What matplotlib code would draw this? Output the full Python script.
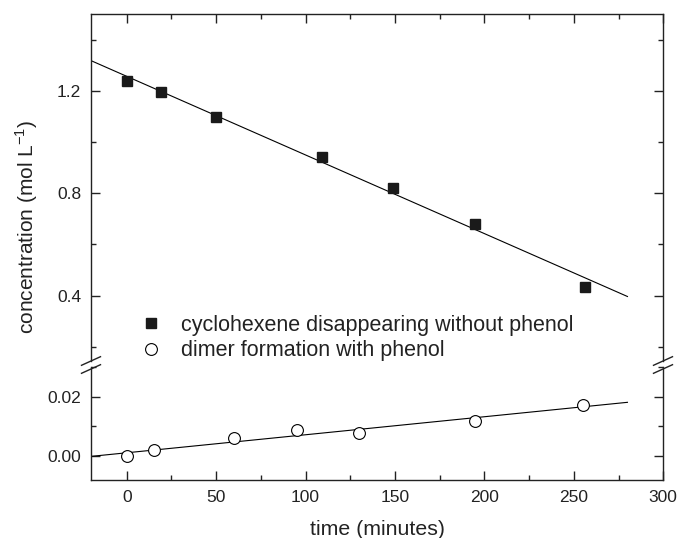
import numpy as np
import matplotlib
matplotlib.use('Agg')
import matplotlib.pyplot as plt
from matplotlib.ticker import MultipleLocator
from matplotlib.lines import Line2D

# cyclohexene disappearing without phenol (squares, upper panel)
t_cyc = [0, 19, 50, 109, 149, 195, 256]
c_cyc = [1.238, 1.197, 1.097, 0.940, 0.820, 0.680, 0.435]

# dimer formation with phenol (circles, lower panel)
t_dim = [0, 15, 60, 95, 130, 195, 255]
c_dim = [0.0000, 0.0019, 0.0061, 0.0087, 0.0077, 0.0117, 0.0172]

fit_range = [-20, 280]

plt.rcParams['font.family'] = ['Liberation Sans', 'DejaVu Sans']
ink = '#222222'

fig = plt.figure(figsize=(6.78, 5.38), dpi=100)
ax_top = fig.add_axes([0.1342, 0.329, 0.844, 0.645])
ax_bot = fig.add_axes([0.1342, 0.108, 0.844, 0.210])

# linear fits
xf = np.array(fit_range)
k1, b1 = np.polyfit(t_cyc, c_cyc, 1)
k2, b2 = np.polyfit(t_dim, c_dim, 1)

ax_top.plot(xf, k1 * xf + b1, color='black', lw=0.8)
ax_top.plot(t_cyc, c_cyc, 's', ms=7.5, color='#1a1a1a', ls='none')
ax_bot.plot(xf, k2 * xf + b2, color='black', lw=0.8)
ax_bot.plot(t_dim, c_dim, 'o', ms=8.5, mfc='white', mec='black', mew=0.8, ls='none')

ax_top.set_ylim(0.145, 1.5)
ax_bot.set_ylim(-0.008, 0.030)
for ax in (ax_top, ax_bot):
    ax.set_xlim(-20, 300)
    ax.xaxis.set_major_locator(MultipleLocator(50))
    ax.xaxis.set_minor_locator(MultipleLocator(25))
    ax.tick_params(which='both', direction='in', top=True, right=True,
                   labelsize=12.5, colors=ink, width=1.0, pad=7)
    ax.tick_params(which='major', length=6.5)
    ax.tick_params(which='minor', length=3.5)
    for s in ax.spines.values():
        s.set_linewidth(1.0)
        s.set_color(ink)

ax_top.set_yticks([0.4, 0.8, 1.2])
ax_top.yaxis.set_minor_locator(MultipleLocator(0.2))
ax_top.yaxis.set_major_formatter(plt.FormatStrFormatter('%.1f'))
ax_top.spines['bottom'].set_visible(False)
ax_top.tick_params(which='both', bottom=False, labelbottom=False)

ax_bot.yaxis.set_major_locator(MultipleLocator(0.02))
ax_bot.yaxis.set_minor_locator(MultipleLocator(0.01))
ax_bot.yaxis.set_major_formatter(plt.FormatStrFormatter('%.2f'))
ax_bot.spines['top'].set_visible(False)
ax_bot.tick_params(which='both', top=False)

ax_bot.set_xlabel('time (minutes)', fontsize=15.3, color=ink, labelpad=11)
fig.text(0.04, 0.578, 'concentration (mol L$^{\\mathregular{-1}}$)', rotation=90,
         ha='center', va='center', fontsize=15, color=ink)

# break marks on both y axes
for xc in (91 / 678, 663 / 678):
    for yc in (361, 369):
        yy = 1 - yc / 538
        fig.add_artist(Line2D([xc - 0.014, xc + 0.014], [yy - 0.008, yy + 0.008],
                              transform=fig.transFigure, color=ink, lw=1.0))

handles = [
    Line2D([], [], marker='s', ms=7, color='#1a1a1a', ls='none'),
    Line2D([], [], marker='o', ms=8.5, mfc='white', mec='black', mew=0.8, ls='none'),
]
fig.legend(handles, ['cyclohexene disappearing without phenol', 'dimer formation with phenol'],
           loc='center left', bbox_to_anchor=(0.181, 1 - 338 / 538), frameon=False,
           fontsize=15.5, labelcolor=ink, handletextpad=0.9, labelspacing=0.22,
           handlelength=1.0, borderpad=0.3)

fig.savefig('out.png', dpi=100)
